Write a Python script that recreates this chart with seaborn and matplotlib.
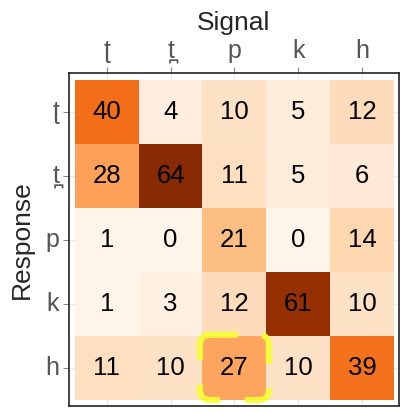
import numpy as np
import pandas as pd
import seaborn as sns
import matplotlib.pyplot as plt
from matplotlib.path import Path
from matplotlib.patches import PathPatch

# phoneme labels (signal = columns, response = rows)
labels = ["\u0288", "t\u032a", "p", "k", "h"]

row_t_retro = [40, 4, 10, 5, 12]
row_t_dental = [28, 64, 11, 5, 6]
row_p = [1, 0, 21, 0, 14]
row_k = [1, 3, 12, 61, 10]
row_h = [11, 10, 27, 10, 39]

counts = pd.DataFrame(
    [row_t_retro, row_t_dental, row_p, row_k, row_h],
    index=labels, columns=labels,
)


def rounded_box(x0, y0, x1, y1, r):
    # clockwise on screen (y axis inverted), starting on the top edge
    verts = [
        (x0 + r * 0.6, y0),
        (x1 - r, y0), (x1, y0), (x1, y0 + r),
        (x1, y1 - r), (x1, y1), (x1 - r, y1),
        (x0 + r, y1), (x0, y1), (x0, y1 - r),
        (x0, y0 + r), (x0, y0), (x0 + r, y0),
        (x0 + r * 0.6, y0),
    ]
    codes = [Path.MOVETO,
             Path.LINETO, Path.CURVE3, Path.CURVE3,
             Path.LINETO, Path.CURVE3, Path.CURVE3,
             Path.LINETO, Path.CURVE3, Path.CURVE3,
             Path.LINETO, Path.CURVE3, Path.CURVE3,
             Path.LINETO]
    return Path(verts, codes)


sns.set_theme(style="white")
plt.rcParams["font.family"] = ["Liberation Sans", "DejaVu Sans"]

fig = plt.figure(figsize=(4.03, 4.12), dpi=100)
ax = fig.add_axes([0.171, 0.0146, 0.819, 0.808])
ax.set_axisbelow(True)

sns.heatmap(
    counts, ax=ax, cmap="Oranges", vmin=0, vmax=66, cbar=False,
    annot=True, fmt="d", annot_kws={"size": 18.5, "color": "black"},
)

for i in range(5):
    ax.axvline(i + 0.5, color="#ebebeb", lw=0.8, zorder=0)
    ax.axhline(i + 0.5, color="#ebebeb", lw=0.8, zorder=0)

ax.set_xlim(-0.094, 5.08)
ax.set_ylim(5.094, -0.11)

ax.xaxis.tick_top()
ax.xaxis.set_label_position("top")
ax.set_xlabel("Signal", fontsize=19, labelpad=7)
ax.set_ylabel("Response", fontsize=19, labelpad=8)
ax.tick_params(axis="both", which="both", length=4, width=0.8,
               color="#888888", labelcolor="#555555", labelsize=18, pad=3)
ax.tick_params(left=True, top=True, bottom=False)
ax.set_xticklabels(labels, rotation=0)
ax.set_yticklabels(labels, rotation=0)

for sp in ax.spines.values():
    sp.set_visible(True)
    sp.set_color("#222222")
    sp.set_linewidth(1.2)

# highlight the h/p cell
hl = PathPatch(
    rounded_box(1.96, 3.98, 3.04, 5.0, 0.16),
    fill=False, edgecolor="#f5ff30", alpha=0.9,
    linewidth=4.4, linestyle=(0, (5.2, 4.0)), zorder=5,
    capstyle="butt", joinstyle="round",
)
ax.add_patch(hl)

plt.savefig("out.png", dpi=100)
